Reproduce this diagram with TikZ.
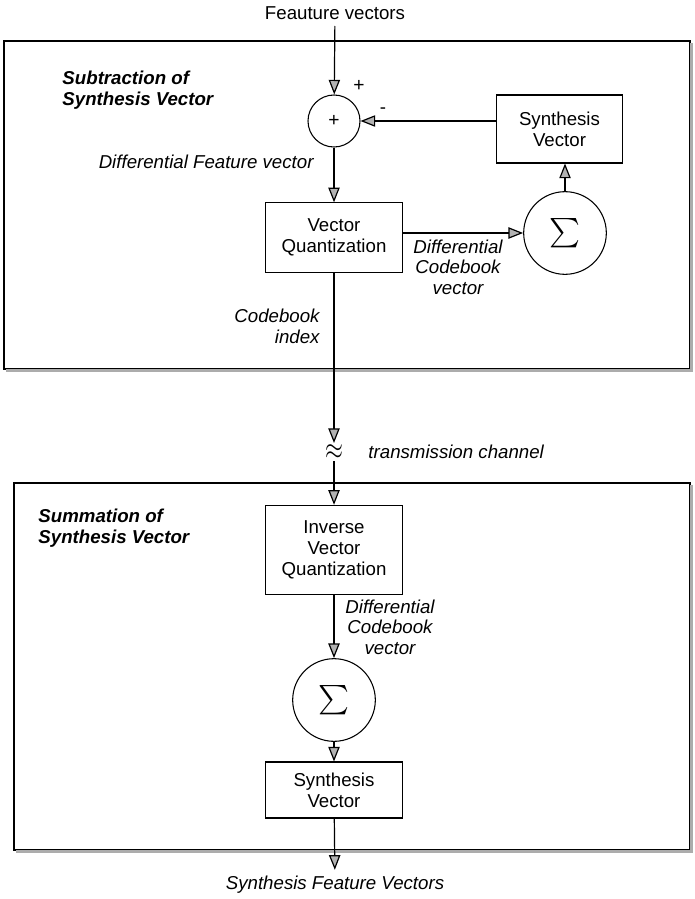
\documentclass[tikz,border=0pt]{standalone}
\usepackage{fontspec}
\setmainfont{Liberation Sans}
\usetikzlibrary{arrows.meta}

\tikzset{
	block/.style = {draw, line width = 0.8pt, minimum width = 103pt, minimum height = 52pt, align = center, inner sep = 2pt},
	adder/.style = {draw, circle, line width = 0.8pt, minimum size = 39pt, inner sep = 0pt},
	summer/.style = {draw, circle, line width = 0.8pt, minimum size = 62pt, inner sep = 0pt},
	note/.style = {font = \itshape, align = center},
	heading/.style = {font = \bfseries\itshape, align = left},
	flow/.style = {line width = 0.9pt, -{Triangle[length = 11pt, width = 8.5pt, fill = gray!60]}},
	frame/.style = {line width = 0.8pt},
	shade/.style = {line width = 2.5pt, gray!65},
}

\newcommand{\sumsign}{\scalebox{2.2}{$\sum$}}

\begin{document}
\fontsize{14}{15.5}\selectfont
\begin{tikzpicture}[x = 0.75pt, y = -0.75pt]

	\useasboundingbox (0, 0) rectangle (694, 899);

	% Frames with shadow

	\draw [frame] (4, 41) rectangle (690, 369);
	\draw [shade] (6, 370.5) -- (691.5, 370.5) -- (691.5, 43);

	\draw [frame] (14, 483) rectangle (690, 850);
	\draw [shade] (16, 851.5) -- (691.5, 851.5) -- (691.5, 485);

	% Subtraction of synthesis vector

	\node (feat) at (335, 13) {Feauture vectors};
	\node [heading, right] (subtitle) at (56, 90) {Subtraction of\\Synthesis Vector};

	\node [adder] (plus) at (334, 121) {\Large +};
	\node [block, minimum width = 94pt, minimum height = 51pt] (synvec) at (559.5, 129) {Synthesis\\Vector};
	\node [block] (vq) at (334, 237.5) {Vector\\Quantization};
	\node [summer] (sigma) at (565, 233) {\sumsign};

	\node (plussign) at (359, 86) {\Large +};
	\node (minussign) at (383, 111) {-};
	\node [note, left] (dfv) at (320, 162) {Differential Feature vector};
	\node [note] (dcv) at (458, 267) {Differential\\Codebook\\vector};
	\node [note, left, align = right] (cbi) at (326, 326) {Codebook\\index};

	\draw [flow] (feat) -- (plus);
	\draw [flow] (synvec.west |- plus) -- (plus);
	\draw [flow] (plus) -- (vq);
	\draw [flow] (vq.east |- sigma) -- (sigma);
	\draw [flow] (sigma) -- (sigma |- synvec.south);

	% Transmission channel

	\node [inner sep = 1pt] (wave) at (334, 452) {\scalebox{1.2}[1.6]{$\approx$}};
	\node [note, right] (chan) at (362, 452) {transmission channel};

	% Summation of synthesis vector

	\node [heading, right] (sumtitle) at (32, 528) {Summation of\\Synthesis Vector};

	\node [block, minimum height = 67pt] (ivq) at (334, 550) {Inverse\\Vector\\Quantization};
	\node [note] (dcv2) at (390, 627) {Differential\\Codebook\\vector};
	\node [summer] (sigma2) at (334, 700) {\sumsign};
	\node [block, minimum height = 42pt] (synvec2) at (334, 790) {Synthesis\\Vector};
	\node [note] (out) at (335, 885) {Synthesis Feature Vectors};

	\draw [flow] (vq) -- (wave);
	\draw [flow] (wave) -- (ivq);
	\draw [flow] (ivq) -- (sigma2);
	\draw [flow] (sigma2) -- (synvec2);
	\draw [flow] (synvec2) -- (out);

\end{tikzpicture}
\end{document}
